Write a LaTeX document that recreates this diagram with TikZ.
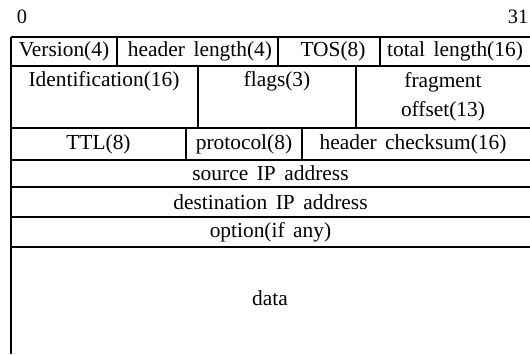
\documentclass[tikz,border=0pt]{standalone}
\usepackage{fontspec}
\setmainfont{Liberation Serif}[WordSpace=1.6]
\begin{document}
\begin{tikzpicture}[x=0.5pt,y=-0.5pt,line width=0.9pt,
                    field node/.style={font=\fontsize{10.7}{14.5}\selectfont,align=center,inner sep=0pt},
                    bit node/.style={font=\fontsize{10.2}{13}\selectfont,inner sep=0pt}]

    \useasboundingbox (0,0) rectangle (530,354);

    % bit numbers
    \node[bit node] (b0) at (22,17) {0};
    \node[bit node] (b31) at (518,17) {31};

    % grid of the header
    \draw (11,37) -- (11,354);
    \foreach \y in {37,66,128,160,187,217,247}
        \draw (11,\y) -- (530,\y);
    \foreach \x in {117,278,380}
        \draw (\x,37) -- (\x,66);
    \foreach \x in {198,356}
        \draw (\x,66) -- (\x,128);
    \foreach \x in {186,302}
        \draw (\x,128) -- (\x,160);

    % fields
    \node[field node] (version) at (64,51.5) {Version(4)};
    \node[field node] (hlen) at (200,51.5) {header length(4)};
    \node[field node] (tos) at (333,51.5) {TOS(8)};
    \node[field node] (tlen) at (455,51.5) {total length(16)};

    \node[field node] (ident) at (104,81) {Identification(16)};
    \node[field node] (flags) at (277,81) {flags(3)};
    \node[field node] (frag) at (443,97) {fragment\\offset(13)};

    \node[field node] (ttl) at (98.5,144) {TTL(8)};
    \node[field node] (proto) at (244,144) {protocol(8)};
    \node[field node] (csum) at (413,144) {header checksum(16)};

    \node[field node] (src) at (270.5,173.5) {source IP address};
    \node[field node] (dst) at (270.5,202) {destination IP address};
    \node[field node] (opt) at (270.5,232) {option(if any)};
    \node[field node] (data) at (270,298) {data};

\end{tikzpicture}
\end{document}
